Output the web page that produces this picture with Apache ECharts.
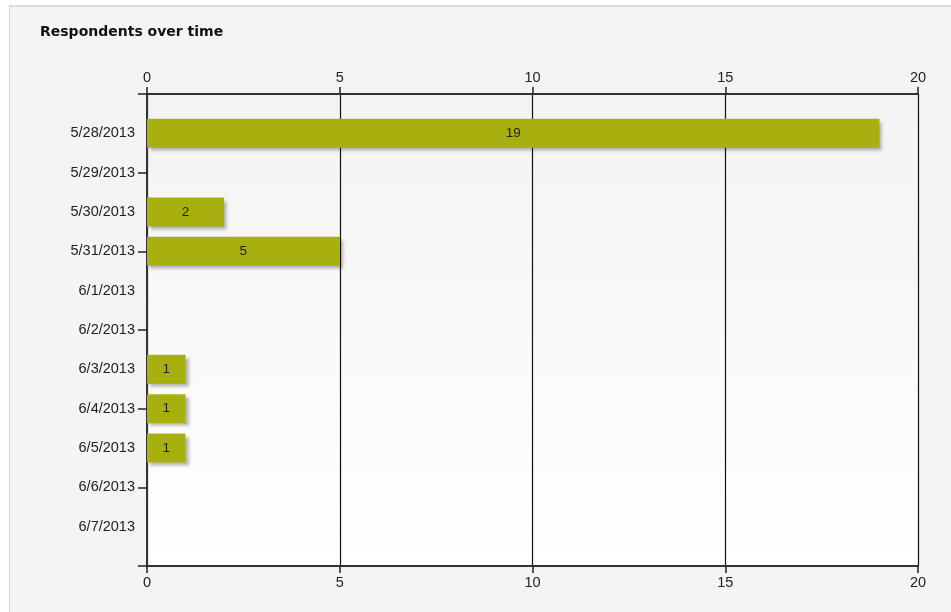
<!DOCTYPE html>
<html>
<head>
<meta charset="utf-8">
<script src="https://cdn.jsdelivr.net/npm/echarts@6/dist/echarts.min.js"></script>
<style>
  html, body { margin: 0; padding: 0; background: #ffffff; }
  #frame { position: absolute; left: 9px; top: 5px; width: 942px; height: 607px;
           background: #f4f4f4; border-left: 1px solid #d8d8d8; border-top: 2px solid #dcdcdc;
           box-sizing: border-box; }
  #chart { position: absolute; left: 0; top: 0; width: 951px; height: 612px; }
</style>
</head>
<body>
<div id="frame"></div>
<div id="chart"></div>
<script>
// Survey response counts per day
const dates = ['5/28/2013', '5/29/2013', '5/30/2013', '5/31/2013', '6/1/2013', '6/2/2013',
               '6/3/2013', '6/4/2013', '6/5/2013', '6/6/2013', '6/7/2013'];
const respondents = [19, null, 2, 5, null, null, 1, 1, 1, null, null];
const valueTicks = [0, 5, 10, 15, 20];

// padded with blank slots so each date sits half a step inside the plot edges
const categories = [''].concat(dates, ['']);
const seriesData = [null].concat(respondents, [null]);

const chart = echarts.init(document.getElementById('chart'), null, { renderer: 'canvas' });

const labelFont = { color: '#222', fontFamily: 'Liberation Sans, Arial, sans-serif', fontSize: 14.5 };

function valueAxis(position) {
  return {
    type: 'value',
    position: position,
    min: valueTicks[0],
    max: valueTicks[valueTicks.length - 1],
    interval: valueTicks[1] - valueTicks[0],
    axisLine: { show: true, lineStyle: { color: '#333', width: 2 } },
    axisTick: { show: true, length: 7, inside: false, lineStyle: { color: '#222', width: 1.5 } },
    axisLabel: Object.assign({ margin: 9 }, labelFont),
    splitLine: { show: position === 'top', lineStyle: { color: '#111', width: 1.2 } }
  };
}

chart.setOption({
  animation: false,
  title: {
    text: 'Respondents over time',
    left: 40, top: 25, padding: 0,
    textStyle: { fontFamily: 'DejaVu Sans, Verdana, sans-serif', fontWeight: 'bold', fontSize: 14, color: '#111' }
  },
  grid: {
    left: 147, right: 33, top: 94, bottom: 46,
    show: true, borderWidth: 0,
    backgroundColor: new echarts.graphic.LinearGradient(0, 0, 0, 1, [
      { offset: 0, color: '#f3f3f3' },
      { offset: 1, color: '#ffffff' }
    ])
  },
  xAxis: [valueAxis('top'), valueAxis('bottom')],
  yAxis: {
    type: 'category',
    data: categories,
    inverse: true,
    boundaryGap: false,
    axisLine: { show: true, lineStyle: { color: '#333', width: 2 } },
    axisTick: {
      show: true, length: 9,
      interval: function (i) { return i % 2 === 0; },
      lineStyle: { color: '#222', width: 1.5 }
    },
    axisLabel: Object.assign({ interval: 0, margin: 12 }, labelFont),
    splitLine: { show: false }
  },
  series: [{
    type: 'bar',
    xAxisIndex: 0,
    data: seriesData,
    barWidth: 29,
    itemStyle: {
      color: '#a8b00f',
      shadowColor: 'rgba(0,0,0,0.28)',
      shadowBlur: 3,
      shadowOffsetX: 3,
      shadowOffsetY: 3
    },
    label: {
      show: true,
      position: 'inside',
      color: '#222',
      fontFamily: 'Liberation Sans, Arial, sans-serif',
      fontSize: 13.5
    }
  }]
});
</script>
</body>
</html>
